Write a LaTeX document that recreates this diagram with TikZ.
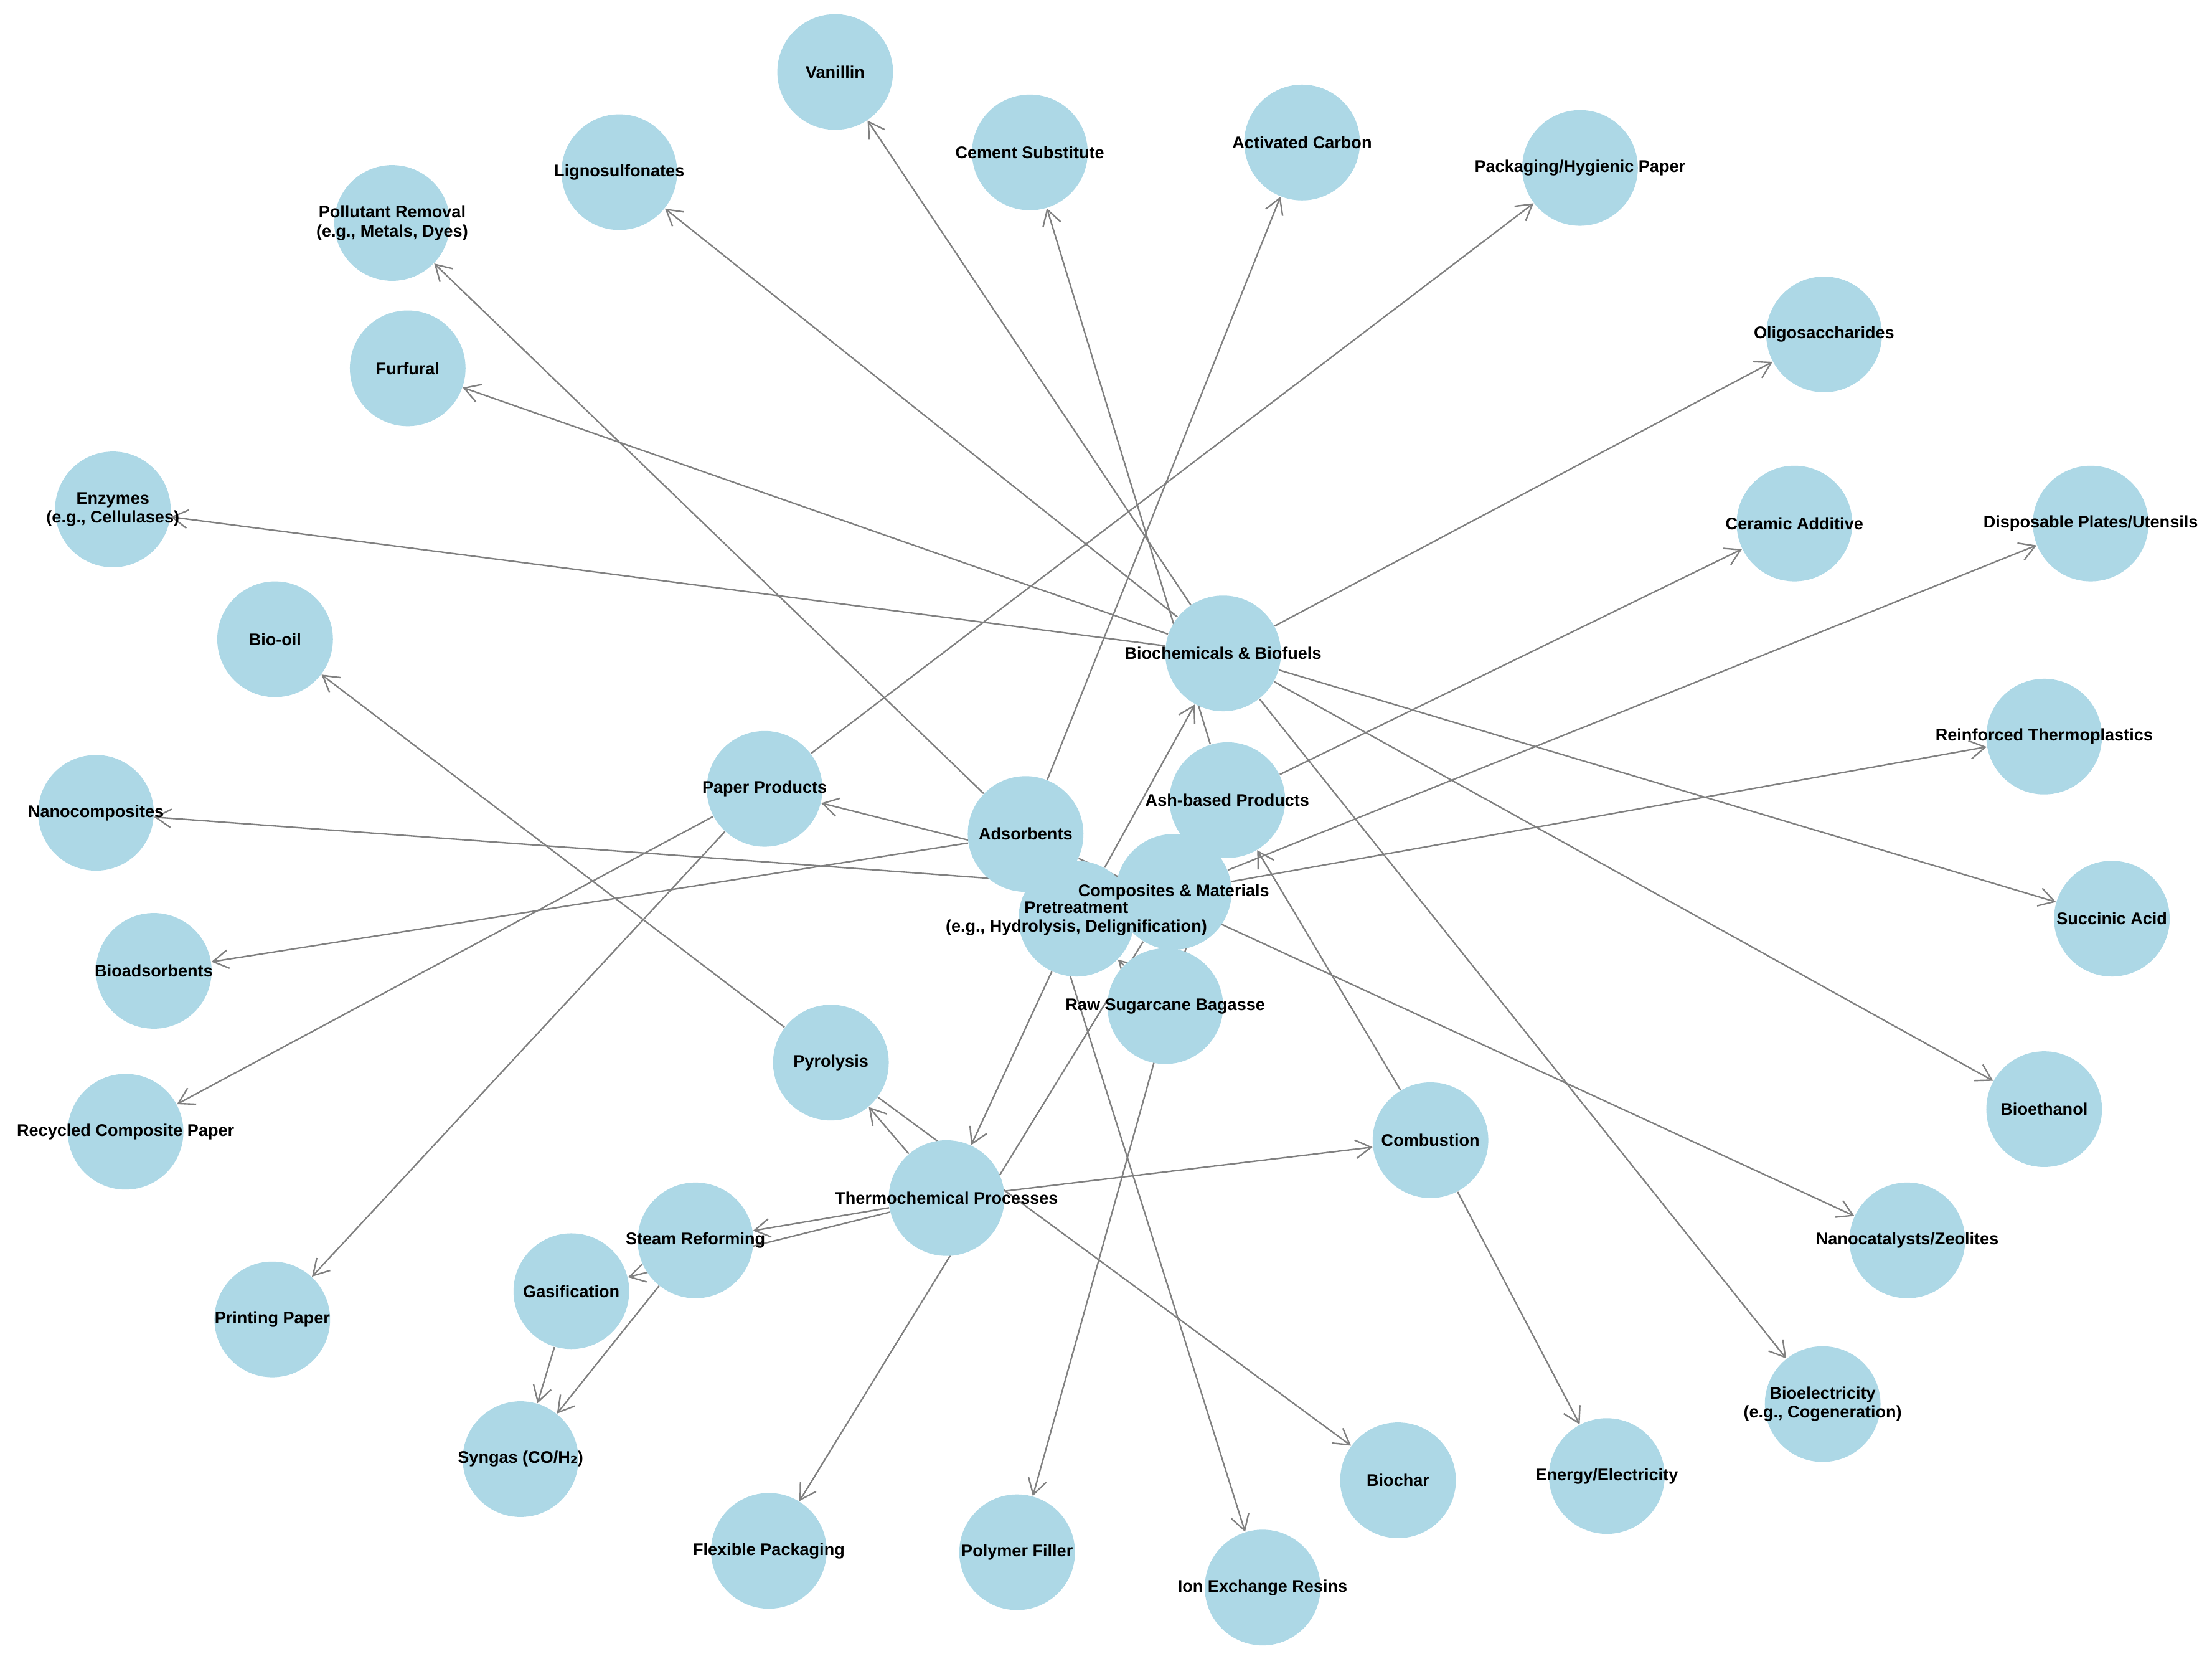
\documentclass[tikz,border=0pt]{standalone}
\usepackage{fontspec}
\setmainfont{Liberation Sans}
\newfontfamily\subfont{DejaVu Sans}
\usetikzlibrary{arrows.meta,backgrounds}

\definecolor{bubbleblue}{RGB}{173,216,230}
\definecolor{edgegray}{RGB}{128,128,128}

\begin{document}
\begin{tikzpicture}[x=0.2mm,y=-0.2mm,
        bubble/.style={circle,fill=bubbleblue,minimum size=16.4mm,inner sep=0pt},
        tag/.style={font=\fontsize{6.8}{7.6}\selectfont\bfseries,align=center,inner sep=0pt},
        flow/.style={-{Straight Barb[length=2.2mm,width=2.6mm]},draw=edgegray,line width=0.6pt}]
        \useasboundingbox (0,0) rectangle (1568,1179);

        % circles
        \node[bubble] (vanillin) at (592,51) {};
        \node[bubble] (cement) at (730,108) {};
        \node[bubble] (actcarbon) at (923,101) {};
        \node[bubble] (packaging) at (1120,119) {};
        \node[bubble] (ligno) at (439,122) {};
        \node[bubble] (pollutant) at (278,158) {};
        \node[bubble] (oligo) at (1293,237) {};
        \node[bubble] (furfural) at (289,261) {};
        \node[bubble] (enzymes) at (80,361) {};
        \node[bubble] (ceramic) at (1272,371) {};
        \node[bubble] (disposable) at (1482,371) {};
        \node[bubble] (biooil) at (195,453) {};
        \node[bubble] (biochem) at (867,463) {};
        \node[bubble] (reinforced) at (1449,522) {};
        \node[bubble] (paper) at (542,559) {};
        \node[bubble] (ash) at (870,567) {};
        \node[bubble] (nanocomp) at (68,576) {};
        \node[bubble] (adsorb) at (727,591) {};
        \node[bubble] (composites) at (832,632) {};
        \node[bubble] (pretreat) at (763,651) {};
        \node[bubble] (succinic) at (1497,651) {};
        \node[bubble] (bioadsorb) at (109,688) {};
        \node[bubble] (raw) at (826,713) {};
        \node[bubble] (pyrolysis) at (589,753) {};
        \node[bubble] (bioethanol) at (1449,786) {};
        \node[bubble] (recycled) at (89,802) {};
        \node[bubble] (combustion) at (1014,808) {};
        \node[bubble] (thermo) at (671,849) {};
        \node[bubble] (steam) at (493,879) {};
        \node[bubble] (nanocat) at (1352,879) {};
        \node[bubble] (gasif) at (405,915) {};
        \node[bubble] (printing) at (193,935) {};
        \node[bubble] (bioelec) at (1292,995) {};
        \node[bubble] (syngas) at (369,1034) {};
        \node[bubble] (biochar) at (991,1049) {};
        \node[bubble] (energy) at (1139,1046) {};
        \node[bubble] (flexible) at (545,1099) {};
        \node[bubble] (polymer) at (721,1100) {};
        \node[bubble] (ion) at (895,1125) {};

        % edges, under the circles
        \begin{scope}[on background layer]
        \draw[flow] (biochem) -- (vanillin);
        \draw[flow] (biochem) -- (ligno);
        \draw[flow] (biochem) -- (furfural);
        \draw[flow] (biochem) -- (enzymes);
        \draw[flow] (biochem) -- (oligo);
        \draw[flow] (biochem) -- (succinic);
        \draw[flow] (biochem) -- (bioethanol);
        \draw[flow] (biochem) -- (bioelec);
        \draw[flow] (ash) -- (cement);
        \draw[flow] (ash) -- (ceramic);
        \draw[flow] (ash) -- (polymer);
        \draw[flow] (adsorb) -- (actcarbon);
        \draw[flow] (adsorb) -- (pollutant);
        \draw[flow] (adsorb) -- (bioadsorb);
        \draw[flow] (adsorb) -- (ion);
        \draw[flow] (adsorb) -- (nanocat);
        \draw[flow] (paper) -- (packaging);
        \draw[flow] (paper) -- (recycled);
        \draw[flow] (paper) -- (printing);
        \draw[flow] (composites) -- (paper);
        \draw[flow] (composites) -- (nanocomp);
        \draw[flow] (composites) -- (reinforced);
        \draw[flow] (composites) -- (disposable);
        \draw[flow] (composites) -- (flexible);
        \draw[flow] (raw) -- (pretreat);
        \draw[flow] (pretreat) -- (biochem);
        \draw[flow] (pretreat) -- (thermo);
        \draw[flow] (thermo) -- (pyrolysis);
        \draw[flow] (thermo) -- (steam);
        \draw[flow] (thermo) -- (gasif);
        \draw[flow] (thermo) -- (combustion);
        \draw[flow] (pyrolysis) -- (biooil);
        \draw[flow] (pyrolysis) -- (biochar);
        \draw[flow] (gasif) -- (syngas);
        \draw[flow] (steam) -- (syngas);
        \draw[flow] (combustion) -- (ash);
        \draw[flow] (combustion) -- (energy);
        \end{scope}

        % labels on top
        \node[tag] (t-vanillin) at (vanillin) {Vanillin};
        \node[tag] (t-cement) at (cement) {Cement Substitute};
        \node[tag] (t-actcarbon) at (actcarbon) {Activated Carbon};
        \node[tag] (t-packaging) at (packaging) {Packaging/Hygienic Paper};
        \node[tag] (t-ligno) at (ligno) {Lignosulfonates};
        \node[tag] (t-pollutant) at (pollutant) {Pollutant Removal\\(e.g., Metals, Dyes)};
        \node[tag] (t-oligo) at (oligo) {Oligosaccharides};
        \node[tag] (t-furfural) at (furfural) {Furfural};
        \node[tag] (t-enzymes) at (enzymes) {Enzymes\\(e.g., Cellulases)};
        \node[tag] (t-ceramic) at (ceramic) {Ceramic Additive};
        \node[tag] (t-disposable) at (disposable) {Disposable Plates/Utensils};
        \node[tag] (t-biooil) at (biooil) {Bio-oil};
        \node[tag] (t-biochem) at (biochem) {Biochemicals \& Biofuels};
        \node[tag] (t-reinforced) at (reinforced) {Reinforced Thermoplastics};
        \node[tag] (t-paper) at (paper) {Paper Products};
        \node[tag] (t-ash) at (ash) {Ash-based Products};
        \node[tag] (t-nanocomp) at (nanocomp) {Nanocomposites};
        \node[tag] (t-adsorb) at (adsorb) {Adsorbents};
        \node[tag] (t-composites) at (composites) {Composites \& Materials};
        \node[tag] (t-pretreat) at (pretreat) {Pretreatment\\(e.g., Hydrolysis, Delignification)};
        \node[tag] (t-succinic) at (succinic) {Succinic Acid};
        \node[tag] (t-bioadsorb) at (bioadsorb) {Bioadsorbents};
        \node[tag] (t-raw) at (raw) {Raw Sugarcane Bagasse};
        \node[tag] (t-pyrolysis) at (pyrolysis) {Pyrolysis};
        \node[tag] (t-bioethanol) at (bioethanol) {Bioethanol};
        \node[tag] (t-recycled) at (recycled) {Recycled Composite Paper};
        \node[tag] (t-combustion) at (combustion) {Combustion};
        \node[tag] (t-thermo) at (thermo) {Thermochemical Processes};
        \node[tag] (t-steam) at (steam) {Steam Reforming};
        \node[tag] (t-nanocat) at (nanocat) {Nanocatalysts/Zeolites};
        \node[tag] (t-gasif) at (gasif) {Gasification};
        \node[tag] (t-printing) at (printing) {Printing Paper};
        \node[tag] (t-bioelec) at (bioelec) {Bioelectricity\\(e.g., Cogeneration)};
        \node[tag] (t-syngas) at (syngas) {Syngas (CO/H{\subfont ₂})};
        \node[tag] (t-biochar) at (biochar) {Biochar};
        \node[tag] (t-energy) at (energy) {Energy/Electricity};
        \node[tag] (t-flexible) at (flexible) {Flexible Packaging};
        \node[tag] (t-polymer) at (polymer) {Polymer Filler};
        \node[tag] (t-ion) at (ion) {Ion Exchange Resins};

    \end{tikzpicture}
\end{document}
